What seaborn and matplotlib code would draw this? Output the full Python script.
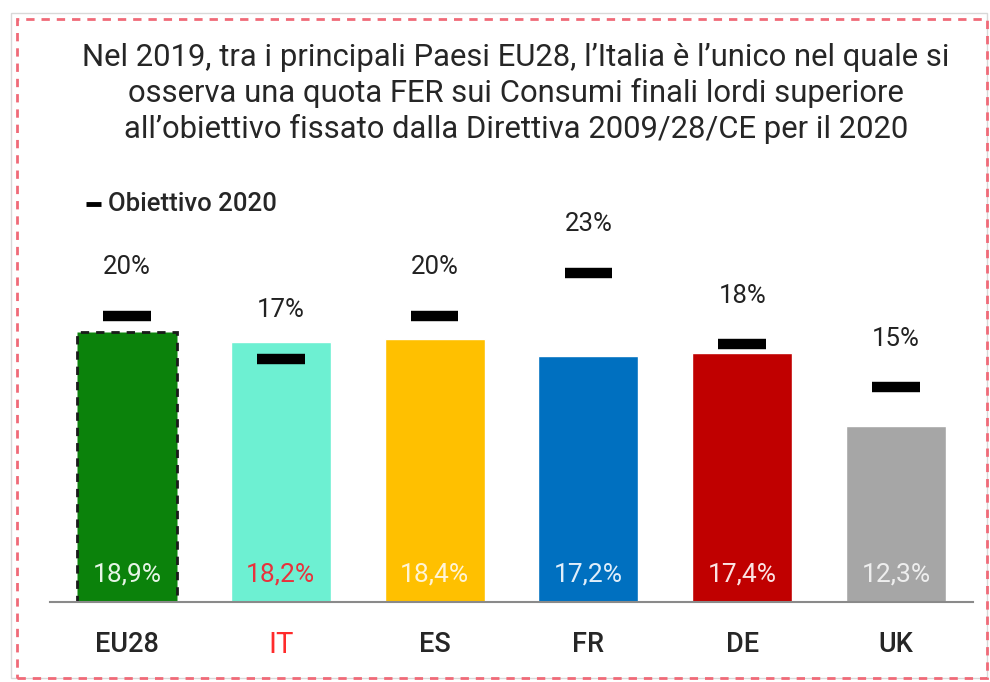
import seaborn as sns
import matplotlib.pyplot as plt
import pandas as pd
from matplotlib.patches import Rectangle
from matplotlib.lines import Line2D

paesi = ['EU28', 'IT', 'ES', 'FR', 'DE', 'UK']
quota_fer = [18.9, 18.2, 18.4, 17.2, 17.4, 12.3]
obiettivo = [20, 17, 20, 23, 18, 15]
colori = ['#0b820b', '#6df0d2', '#ffc000', '#0070c0', '#c00000', '#a6a6a6']
colori_valori = ['#e6f5e6', '#e8323c', '#fff4d6', '#e0eefa', '#fbe3e3', '#eeeeee']

titolo = ("Nel 2019, tra i principali Paesi EU28, l\u2019Italia \u00e8 l\u2019unico nel quale si\n"
          "osserva una quota FER sui Consumi finali lordi superiore\n"
          "all\u2019obiettivo fissato dalla Direttiva 2009/28/CE per il 2020")

df = pd.DataFrame({'paese': paesi, 'quota': quota_fer, 'obiettivo': obiettivo})

sns.set_style('white')
plt.rcParams['font.family'] = ['Roboto', 'DejaVu Sans']

fig = plt.figure(figsize=(9.9, 6.82), dpi=100)
ax = fig.add_axes([50 / 990, 80 / 682, 923 / 990, 402 / 682])

sns.barplot(data=df, x='paese', y='quota', hue='paese', palette=colori,
            width=0.65, legend=False, ax=ax, saturation=1)

# EU28 bar with dashed edge
bar0 = ax.patches[0]
bar0.set_edgecolor('#1a1a1a')
bar0.set_linestyle((0, (3, 2.5)))
bar0.set_linewidth(2)

# target markers
xs = range(len(paesi))
ax.hlines(obiettivo, [x - 0.155 for x in xs], [x + 0.155 for x in xs],
          color='black', linewidth=7.5, capstyle='butt')

for x, t in zip(xs, obiettivo):
    ax.annotate(f'{t}%', (x, t), xytext=(0, 35), textcoords='offset points',
                ha='center', va='center', fontsize=18.5, color='#222222')

for x, v, c in zip(xs, quota_fer, colori_valori):
    ax.annotate(f'{v:.1f}%'.replace('.', ','), (x, 0), xytext=(0, 19.5),
                textcoords='offset points', ha='center', va='center',
                fontsize=19, color=c)

ax.set_xlim(-0.5, 5.5)
ax.set_ylim(0, 28.1)
ax.set_xlabel('')
ax.set_ylabel('')
ax.set_yticks([])
for s in ['top', 'right', 'left']:
    ax.spines[s].set_visible(False)
ax.spines['bottom'].set_color('#8a8a8a')
ax.spines['bottom'].set_linewidth(1.5)
ax.tick_params(axis='x', length=0, pad=21)
for lbl in ax.get_xticklabels():
    lbl.set_fontsize(19.5)
    lbl.set_fontweight('medium')
    lbl.set_color('#262626')
    if lbl.get_text() == 'IT':
        lbl.set_color('#ff2b2b')
        lbl.set_fontweight('normal')
        lbl.set_fontsize(21)

fig.text(516 / 990, 1 - 93 / 682, titolo, ha='center', va='center',
         fontsize=22.3, color='#262626', linespacing=1.25)

# legend
fig.add_artist(Line2D([86 / 990, 101 / 990], [1 - 204 / 682, 1 - 204 / 682],
                      transform=fig.transFigure, color='black', linewidth=3.5,
                      solid_capstyle='butt'))
fig.text(108 / 990, 1 - 204 / 682, 'Obiettivo 2020', ha='left', va='center',
         fontsize=18.5, fontweight='medium', color='#262626')

# frames
fig.patches.append(Rectangle((11 / 990, 4 / 682), 976 / 990, 665 / 682,
                             transform=fig.transFigure, fill=False,
                             edgecolor='#d8d8d8', linewidth=1))
fig.patches.append(Rectangle((17 / 990, 4 / 682), 970 / 990, 659 / 682,
                             transform=fig.transFigure, fill=False,
                             edgecolor='#f06a78', linewidth=2,
                             linestyle=(0, (3, 2.5))))

fig.savefig('out.png', dpi=100)
